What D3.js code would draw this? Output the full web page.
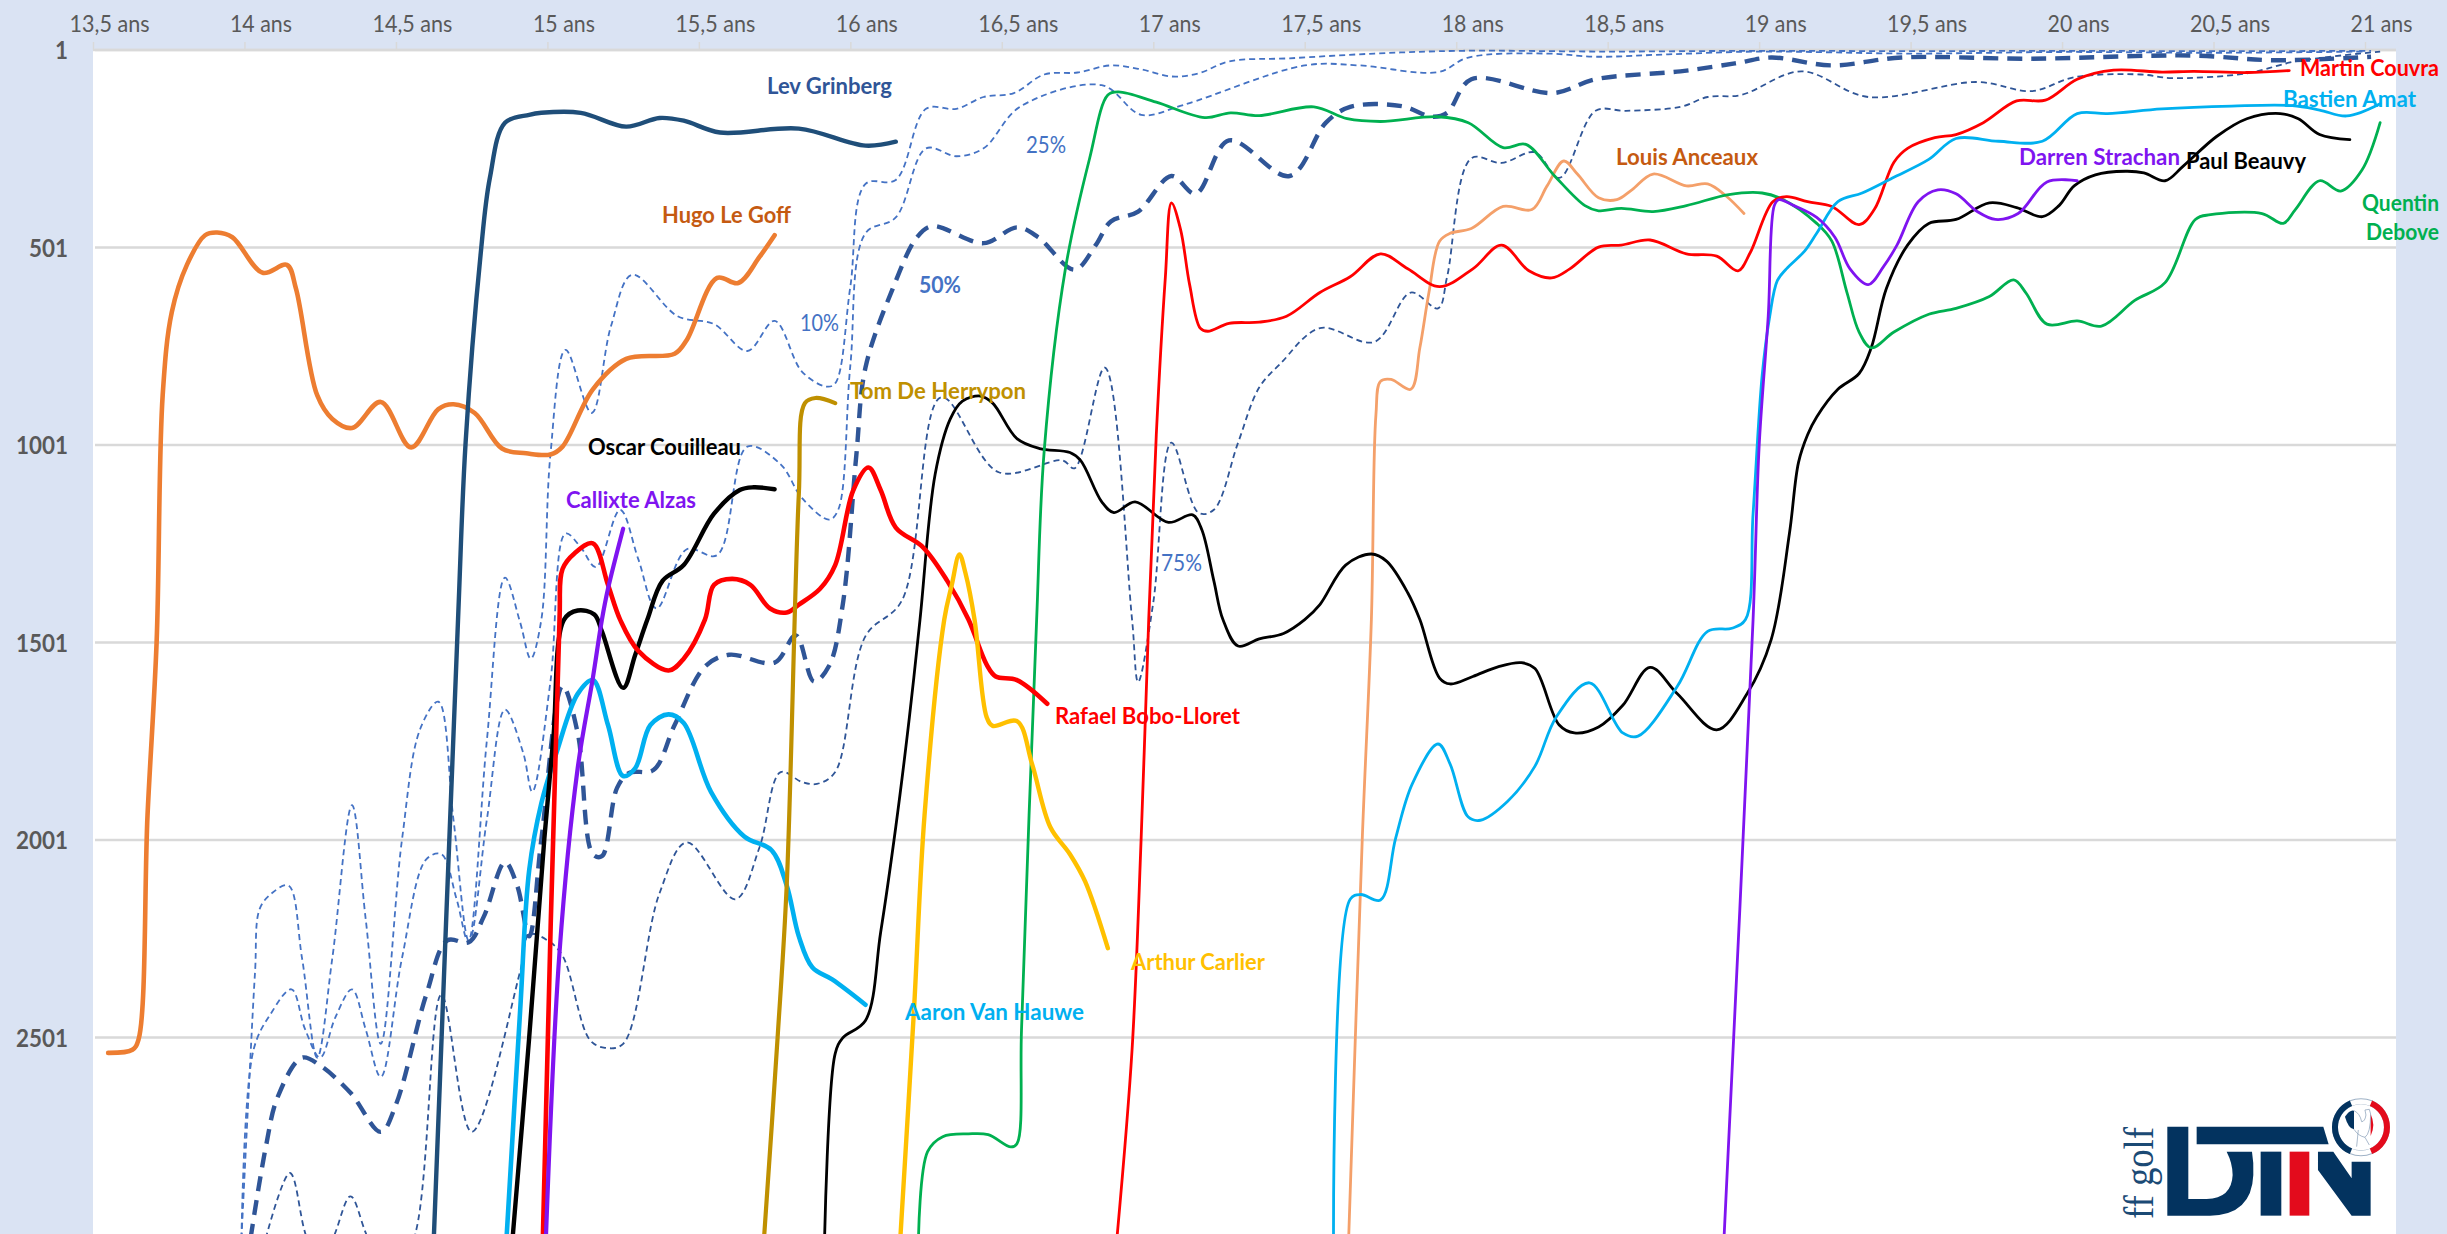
<!DOCTYPE html>
<html>
<head>
<meta charset="utf-8">
<script src="https://cdn.jsdelivr.net/npm/d3@7"></script>
<style>
  html, body { margin: 0; padding: 0; background: #dae3f3; overflow: hidden; }
  svg { display: block; }
  text { font-family: Lato, "Open Sans", sans-serif; }
</style>
</head>
<body>
<script>
// age ticks and rank ticks
const ageTicks = [13.5, 14, 14.5, 15, 15.5, 16, 16.5, 17, 17.5, 18, 18.5, 19, 19.5, 20, 20.5, 21];
const ageTickLabels = ["13,5 ans", "14 ans", "14,5 ans", "15 ans", "15,5 ans", "16 ans", "16,5 ans", "17 ans", "17,5 ans", "18 ans", "18,5 ans", "19 ans", "19,5 ans", "20 ans", "20,5 ans", "21 ans"];
const rankTicks = [1, 501, 1001, 1501, 2001, 2501];

// percentile curves, [age, rank]
const p10 = [[13.99,3010],[14.01,2700],[14.035,2334],[14.05,2176],[14.09,2136],[14.145,2116],[14.19,2300],[14.24,2552],[14.29,2300],[14.355,1913],[14.4,2200],[14.45,2517],[14.52,2000],[14.58,1720],[14.64,1651],[14.69,1950],[14.74,2255],[14.8,1750],[14.86,1337],[14.91,1450],[14.945,1542],[14.98,1443],[15.01,1025],[15.06,760],[15.146,920],[15.21,700],[15.28,570],[15.43,675],[15.55,695],[15.66,763],[15.75,687],[15.84,815],[15.92,853],[15.95,845],[16.0,600],[16.05,340],[16.15,330],[16.25,150],[16.35,150],[16.44,120],[16.54,110],[16.64,63],[16.75,58],[16.86,40],[16.96,50],[17.06,68],[17.15,60],[17.25,30],[17.45,22],[17.73,10],[18.02,3],[18.5,5],[19,3],[19.5,4],[20,3],[20.5,4],[21.02,3]];
const p25 = [[13.99,3010],[14.03,2532],[14.085,2443],[14.155,2379],[14.2,2480],[14.25,2552],[14.3,2450],[14.355,2379],[14.4,2480],[14.45,2601],[14.52,2300],[14.6,2050],[14.65,2037],[14.7,2150],[14.74,2260],[14.8,1950],[14.86,1671],[14.92,1780],[14.95,1879],[15.01,1600],[15.06,1225],[15.11,1260],[15.16,1310],[15.24,1165],[15.3,1290],[15.36,1415],[15.46,1265],[15.56,1280],[15.66,1005],[15.77,1050],[15.84,1135],[15.93,1190],[15.96,1165],[16.0,800],[16.05,465],[16.15,425],[16.25,250],[16.35,270],[16.44,250],[16.56,145],[16.83,90],[16.96,165],[17.1,140],[17.5,40],[17.68,40],[17.94,57],[18.04,20],[18.3,10],[18.46,18],[18.7,12],[19,5],[19.5,10],[20,6],[20.5,8],[21,5]];
const p50 = [[14.02,3010],[14.07,2780],[14.11,2651],[14.19,2552],[14.25,2572],[14.35,2641],[14.45,2740],[14.5,2671],[14.6,2393],[14.67,2255],[14.74,2260],[14.79,2195],[14.86,2057],[14.9,2116],[14.94,2245],[14.98,2000],[15.05,1611],[15.1,1730],[15.15,2037],[15.18,2042],[15.23,1869],[15.27,1831],[15.35,1824],[15.42,1710],[15.52,1562],[15.6,1532],[15.75,1552],[15.82,1483],[15.88,1600],[15.93,1560],[15.975,1405],[16.02,1025],[16.05,805],[16.14,605],[16.22,475],[16.27,447],[16.44,490],[16.55,450],[16.62,475],[16.74,557],[16.81,495],[16.86,435],[16.95,410],[17.06,320],[17.14,365],[17.25,230],[17.45,320],[17.57,185],[17.65,145],[17.82,143],[17.92,170],[17.97,160],[18.05,75],[18.32,110],[18.46,75],[18.74,55],[18.92,35],[19.04,20],[19.24,40],[19.47,20],[19.9,23],[20.43,15],[20.7,27],[21.02,18]];
const p75 = [[14.07,3010],[14.15,2844],[14.2,2995],[14.25,3100],[14.3,2995],[14.35,2903],[14.4,2995],[14.48,3150],[14.565,2995],[14.65,2393],[14.75,2740],[14.91,2334],[14.94,2240],[15.0,2255],[15.05,2294],[15.14,2507],[15.19,2527],[15.25,2517],[15.37,2136],[15.46,2007],[15.62,2151],[15.7,2020],[15.77,1829],[15.84,1854],[15.89,1859],[15.95,1829],[16.05,1485],[16.17,1395],[16.3,880],[16.49,1070],[16.7,1040],[16.74,1060],[16.84,805],[16.93,1443],[16.95,1601],[17.0,1400],[17.06,995],[17.15,1173],[17.2,1165],[17.28,995],[17.35,855],[17.42,795],[17.55,705],[17.73,740],[17.85,615],[17.94,655],[17.97,575],[18.05,275],[18.15,287],[18.26,260],[18.34,325],[18.46,155],[18.56,155],[18.74,145],[18.83,120],[18.94,115],[19.14,55],[19.36,120],[19.72,82],[19.9,105],[20.04,70],[20.26,63],[20.36,72],[20.61,60],[20.77,30],[21.05,5]];

// players, [age, rank]
const hugoLeGoff = [[13.55,2540],[13.63,2532],[13.65,2507],[13.68,1938],[13.71,1500],[13.73,875],[13.76,665],[13.81,545],[13.87,470],[13.91,463],[13.96,475],[14.06,565],[14.14,545],[14.17,605],[14.24,875],[14.29,935],[14.355,958],[14.45,892],[14.55,1007],[14.64,910],[14.69,898],[14.76,920],[14.85,1010],[14.93,1022],[15.01,1025],[15.05,1005],[15.15,860],[15.26,783],[15.42,770],[15.46,735],[15.56,578],[15.63,591],[15.7,525],[15.75,470]];
const levGrinberg = [[14.625,3010],[14.705,1443],[14.73,995],[14.78,515],[14.81,325],[14.86,185],[14.94,165],[14.98,160],[15.11,160],[15.26,195],[15.37,173],[15.45,180],[15.57,210],[15.83,200],[16.05,243],[16.15,233]];
const rafaelBoboLloret = [[14.985,3010],[15.04,1443],[15.05,1315],[15.09,1275],[15.15,1250],[15.2,1355],[15.24,1443],[15.3,1522],[15.4,1572],[15.45,1542],[15.52,1443],[15.55,1355],[15.61,1340],[15.67,1355],[15.735,1415],[15.79,1425],[15.83,1405],[15.9,1365],[15.95,1305],[16.01,1115],[16.06,1058],[16.1,1115],[16.15,1210],[16.24,1260],[16.32,1345],[16.39,1443],[16.45,1557],[16.48,1587],[16.55,1596],[16.65,1656]];
const oscarCouilleau = [[14.885,3010],[14.94,2500],[14.99,1997],[15.02,1740],[15.055,1443],[15.1,1420],[15.155,1430],[15.18,1473],[15.25,1616],[15.29,1532],[15.33,1443],[15.38,1345],[15.45,1305],[15.55,1175],[15.635,1115],[15.68,1108],[15.75,1113]];
const callixteAlzas = [[14.995,3010],[15.04,2285],[15.1,1819],[15.15,1591],[15.18,1443],[15.2,1365],[15.25,1213]];
const aaronVanHauwe = [[14.865,3010],[14.91,2433],[14.94,2077],[14.98,1908],[15.03,1780],[15.1,1631],[15.15,1596],[15.2,1710],[15.25,1839],[15.29,1819],[15.34,1710],[15.4,1683],[15.45,1705],[15.54,1879],[15.65,1992],[15.74,2027],[15.79,2116],[15.83,2245],[15.875,2324],[15.94,2354],[16.05,2418]];
const tomDeHerrypon = [[15.715,3010],[15.76,2500],[15.79,2116],[15.83,1125],[15.85,895],[15.885,882],[15.95,895]];
const arthurCarlier = [[16.165,3010],[16.21,2433],[16.245,1938],[16.31,1443],[16.335,1355],[16.36,1278],[16.38,1325],[16.41,1443],[16.45,1690],[16.47,1712],[16.55,1700],[16.6,1809],[16.66,1968],[16.725,2037],[16.775,2106],[16.85,2275]];
const paulBeauvy = [[15.915,3010],[15.95,2542],[15.975,2502],[16.05,2458],[16.1,2235],[16.15,1968],[16.195,1690],[16.23,1443],[16.28,1075],[16.33,935],[16.37,890],[16.43,877],[16.47,895],[16.55,985],[16.625,1010],[16.725,1020],[16.76,1040],[16.83,1145],[16.87,1172],[16.94,1145],[17.05,1197],[17.13,1178],[17.16,1215],[17.2,1345],[17.23,1443],[17.28,1510],[17.35,1492],[17.43,1478],[17.5,1443],[17.55,1405],[17.635,1305],[17.72,1277],[17.77,1295],[17.84,1375],[17.88,1443],[17.945,1591],[17.98,1606],[18.055,1587],[18.14,1562],[18.215,1552],[18.26,1567],[18.34,1710],[18.39,1730],[18.47,1715],[18.55,1660],[18.64,1564],[18.73,1631],[18.86,1722],[18.96,1631],[19.04,1493],[19.1,1225],[19.13,1045],[19.16,975],[19.19,930],[19.26,860],[19.33,820],[19.37,755],[19.42,605],[19.49,495],[19.56,440],[19.65,430],[19.76,388],[19.85,400],[19.935,423],[19.99,395],[20.04,345],[20.11,317],[20.21,308],[20.27,312],[20.34,332],[20.4,295],[20.51,220],[20.61,175],[20.72,162],[20.78,175],[20.85,215],[20.95,228]];
const quentinDebove = [[16.225,3010],[16.255,2790],[16.305,2752],[16.39,2745],[16.455,2747],[16.53,2778],[16.55,2770],[16.565,2483],[16.59,1938],[16.615,1443],[16.64,1015],[16.71,555],[16.79,275],[16.85,115],[16.885,107],[17.01,133],[17.17,172],[17.255,160],[17.35,167],[17.53,145],[17.64,175],[17.75,182],[17.94,170],[18.04,185],[18.155,248],[18.23,240],[18.325,320],[18.425,395],[18.47,408],[18.545,402],[18.65,410],[18.76,395],[18.9,367],[19.01,363],[19.08,380],[19.19,440],[19.24,485],[19.29,615],[19.33,715],[19.37,755],[19.445,715],[19.56,670],[19.65,655],[19.76,625],[19.84,583],[19.88,615],[19.95,695],[20.05,687],[20.13,700],[20.24,635],[20.34,590],[20.44,430],[20.49,418],[20.66,415],[20.73,440],[20.77,405],[20.85,332],[20.92,358],[20.99,305],[21.05,185]];
const martinCouvra = [[16.88,3010],[16.93,2532],[16.96,1997],[16.985,1443],[17.01,975],[17.04,575],[17.06,388],[17.09,455],[17.12,595],[17.155,705],[17.18,713],[17.25,693],[17.35,690],[17.44,675],[17.55,615],[17.65,575],[17.75,517],[17.84,555],[17.945,600],[18.055,555],[18.15,495],[18.24,560],[18.315,578],[18.375,555],[18.47,500],[18.545,495],[18.64,482],[18.76,517],[18.86,523],[18.93,560],[18.97,515],[19.045,385],[19.09,372],[19.16,385],[19.24,397],[19.33,443],[19.38,405],[19.445,285],[19.49,250],[19.58,223],[19.65,215],[19.74,185],[19.85,130],[19.945,128],[20.05,75],[20.17,52],[20.33,57],[20.435,55],[20.61,58],[20.75,53]];
const bastienAmat = [[17.595,3010],[17.65,2151],[17.685,2139],[17.75,2153],[17.8,1997],[17.855,1859],[17.94,1758],[17.98,1809],[18.04,1943],[18.08,1951],[18.17,1903],[18.26,1814],[18.33,1690],[18.44,1603],[18.55,1730],[18.6,1738],[18.73,1612],[18.83,1473],[18.91,1465],[18.955,1443],[18.98,1175],[19.01,825],[19.035,675],[19.06,585],[19.09,555],[19.15,510],[19.19,465],[19.26,385],[19.34,363],[19.44,325],[19.56,278],[19.65,225],[19.79,232],[19.935,232],[20.05,162],[20.15,162],[20.33,150],[20.56,143],[20.76,142],[20.85,153],[20.94,168],[21.05,137]];
const louisAnceaux = [[17.645,3010],[17.69,1997],[17.72,1443],[17.735,925],[17.75,840],[17.785,835],[17.85,860],[17.88,755],[17.91,615],[17.945,485],[17.98,465],[18.05,453],[18.155,397],[18.25,405],[18.3,345],[18.355,282],[18.4,315],[18.47,375],[18.53,380],[18.58,355],[18.65,315],[18.76,345],[18.83,340],[18.89,370],[18.95,415]];
const darrenStrachan = [[18.884,3010],[18.98,1443],[19.0,1005],[19.03,675],[19.05,395],[19.065,380],[19.115,395],[19.19,425],[19.25,475],[19.3,555],[19.36,595],[19.41,550],[19.455,495],[19.525,385],[19.59,355],[19.65,365],[19.72,410],[19.78,430],[19.855,415],[19.95,335],[20.05,332]];

const width = 2447, height = 1234;

const x = d3.scaleLinear().domain([13.5, 21]).range([93, 2365]);
const y = d3.scaleLinear().domain([1, 3001]).range([50, 1235]);

const svg = d3.select("body").append("svg")
    .attr("width", width)
    .attr("height", height);

svg.append("rect").attr("width", width).attr("height", height).attr("fill", "#dae3f3");
svg.append("rect").attr("x", 93).attr("y", 50).attr("width", 2396 - 93).attr("height", height - 50).attr("fill", "#fff");

// gridlines
svg.selectAll(".grid").data(rankTicks).enter().append("line")
    .attr("x1", 95).attr("x2", 2396)
    .attr("y1", d => y(d)).attr("y2", d => y(d))
    .attr("stroke", "#d9d9d9").attr("stroke-width", 2.4);

// top axis, drawn by d3
const axisTop = d3.axisTop(x).tickValues(ageTicks).tickSize(8).tickPadding(0)
    .tickFormat((d, i) => ageTickLabels[i]);
const gx = svg.append("g").attr("transform", "translate(0," + y(1) + ")").call(axisTop);
gx.select(".domain").attr("d", "M93,0H2396").attr("stroke", "#d9d9d9").attr("stroke-width", 2.4);
gx.selectAll(".tick line").attr("stroke", "#d9d9d9").attr("stroke-width", 1.5);
gx.selectAll(".tick text")
    .attr("x", 16).attr("y", -18)
    .attr("fill", "#595959")
    .style("font-family", 'Lato, sans-serif')
    .style("font-size", "23px")
    .style("text-anchor", "middle")
    .attr("textLength", (d, i) => ageTickLabels[i].length == 8 ? 80 : 62)
    .attr("lengthAdjust", "spacingAndGlyphs");

// left axis labels
svg.selectAll(".ylab").data(rankTicks).enter().append("text")
    .attr("x", 68).attr("y", d => y(d))
    .attr("dy", "0.36em")
    .attr("text-anchor", "end")
    .attr("fill", "#595959")
    .style("font-size", "25px")
    .style("font-weight", 700)
    .attr("textLength", d => String(d).length * 13)
    .attr("lengthAdjust", "spacingAndGlyphs")
    .text(d => d);

const line = d3.line()
    .x(d => x(d[0]))
    .y(d => y(d[1]))
    .curve(d3.curveCatmullRom.alpha(0.5));

function drawSeries(points, color, w, dash) {
    svg.append("path")
        .attr("d", line(points))
        .attr("fill", "none")
        .attr("stroke", color)
        .attr("stroke-width", w)
        .attr("stroke-linecap", dash ? "butt" : "round")
        .attr("stroke-linejoin", "round")
        .attr("stroke-dasharray", dash || null);
}

drawSeries(p75, "#2f5597", 1.8, "6 4");
drawSeries(p25, "#4472c4", 1.8, "6 4");
drawSeries(p10, "#4472c4", 1.8, "6 4");
drawSeries(p50, "#2f5597", 4.4, "15 9");

drawSeries(louisAnceaux, "#f4a06a", 2.8);
drawSeries(paulBeauvy, "#000", 2.8);
drawSeries(quentinDebove, "#00b050", 2.8);
drawSeries(martinCouvra, "#ff0000", 2.8);
drawSeries(bastienAmat, "#00b0f0", 2.8);
drawSeries(darrenStrachan, "#7f14f0", 2.8);

drawSeries(hugoLeGoff, "#ed7d31", 4.6);
drawSeries(levGrinberg, "#1f4e79", 4.4);
drawSeries(aaronVanHauwe, "#00b0f0", 4.6);
drawSeries(oscarCouilleau, "#000", 4.4);
drawSeries(rafaelBoboLloret, "#ff0000", 4.6);
drawSeries(callixteAlzas, "#7f14f0", 4.2);
drawSeries(tomDeHerrypon, "#bf9000", 4.2);
drawSeries(arthurCarlier, "#ffc000", 4.4);

// series labels: text, left, right, middle y, colour, bold
const labels = [
    ["Lev Grinberg", 767, 892, 86, "#2f5597", 1],
    ["Hugo Le Goff", 662, 791, 215, "#c55a11", 1],
    ["Oscar Couilleau", 588, 741, 447, "#000", 1],
    ["Callixte Alzas", 566, 696, 500, "#7f14f0", 1],
    ["Rafael Bobo-Lloret", 1055, 1240, 716, "#ff0000", 1],
    ["Tom De Herrypon", 850, 1026, 391, "#bf9000", 1],
    ["Arthur Carlier", 1131, 1265, 962, "#ffc000", 1],
    ["Aaron Van Hauwe", 905, 1084, 1012, "#00b0f0", 1],
    ["Louis Anceaux", 1616, 1758, 157, "#c55a11", 1],
    ["Darren Strachan", 2019, 2180, 157, "#7f14f0", 1],
    ["Paul Beauvy", 2186, 2306, 161, "#000", 1],
    ["Martin Couvra", 2300, 2439, 68, "#ff0000", 1],
    ["Bastien Amat", 2283, 2416, 99, "#00b0f0", 1],
    ["Quentin", 2362, 2439, 203, "#00b050", 1],
    ["Debove", 2366, 2439, 232, "#00b050", 1],
    ["10%", 800, 839, 323, "#4472c4", 0],
    ["25%", 1026, 1066, 145, "#4472c4", 0],
    ["50%", 919, 961, 285, "#4472c4", 1],
    ["75%", 1161, 1202, 563, "#4472c4", 0]
];

svg.selectAll(".lab").data(labels).enter().append("text")
    .attr("x", d => d[1])
    .attr("y", d => d[3])
    .attr("dy", "0.36em")
    .attr("fill", d => d[4])
    .style("font-size", "23px")
    .style("font-weight", d => d[5] ? 700 : 400)
    .attr("textLength", d => d[2] - d[1])
    .attr("lengthAdjust", "spacingAndGlyphs")
    .text(d => d[0]);

// ffgolf DTN logo (zoomed 3x coordinates, hence the scale)
const navy = "#03335f", logoRed = "#e30b1c";
const logo = svg.append("g").attr("transform", "translate(2050,1050) scale(0.3333)");
logo.append("path").attr("fill", navy)
    .attr("d", "M352,230H415V447H470Q545,445 548,375Q548,340 530,305H606Q612,340 610,375Q605,495 480,497H352Z");
logo.append("path").attr("fill", navy).attr("d", "M440,230H820L836,283H440Z");
logo.append("rect").attr("fill", navy).attr("x", 632).attr("y", 305).attr("width", 62).attr("height", 192);
logo.append("rect").attr("fill", logoRed).attr("x", 719).attr("y", 305).attr("width", 59).attr("height", 192);
logo.append("path").attr("fill", navy).attr("d", "M804,305H850L905,385V335H962V497H905L804,360Z");
logo.append("circle").attr("cx", 933).attr("cy", 232).attr("r", 92).attr("fill", "#fff");
logo.append("circle").attr("cx", 933).attr("cy", 232).attr("r", 78).attr("fill", "none").attr("stroke", "#9fb2c6").attr("stroke-width", 18);
logo.append("circle").attr("cx", 933).attr("cy", 232).attr("r", 77).attr("fill", "none").attr("stroke", "#fff").attr("stroke-width", 14);
logo.append("path").attr("fill", "none").attr("stroke", navy).attr("stroke-width", 18)
    .attr("d", "M903,160A78,78 0 0 0 903,304");
logo.append("path").attr("fill", "none").attr("stroke", logoRed).attr("stroke-width", 18)
    .attr("d", "M963,160A78,78 0 0 1 963,304");
logo.append("path").attr("fill", navy)
    .attr("d", "M885,200Q900,178 912,182V238Q895,235 885,200Z");
logo.append("path").attr("fill", logoRed)
    .attr("d", "M962,192Q978,225 962,258Z");
logo.append("path").attr("fill", "none").attr("stroke", "#7f97b2").attr("stroke-width", 2)
    .attr("d", "M912,182Q930,190 935,215Q945,215 948,195L945,180L958,178L962,192Q962,250 945,262L958,285M925,240L920,290M912,238Q925,258 945,262");

svg.append("text")
    .attr("transform", "translate(2153,1219) rotate(-90)")
    .attr("fill", "#1b4a75")
    .style("font-family", '"Liberation Serif", serif')
    .style("font-size", "42px")
    .attr("textLength", 92)
    .attr("lengthAdjust", "spacingAndGlyphs")
    .text("ff golf");
</script>
</body>
</html>
